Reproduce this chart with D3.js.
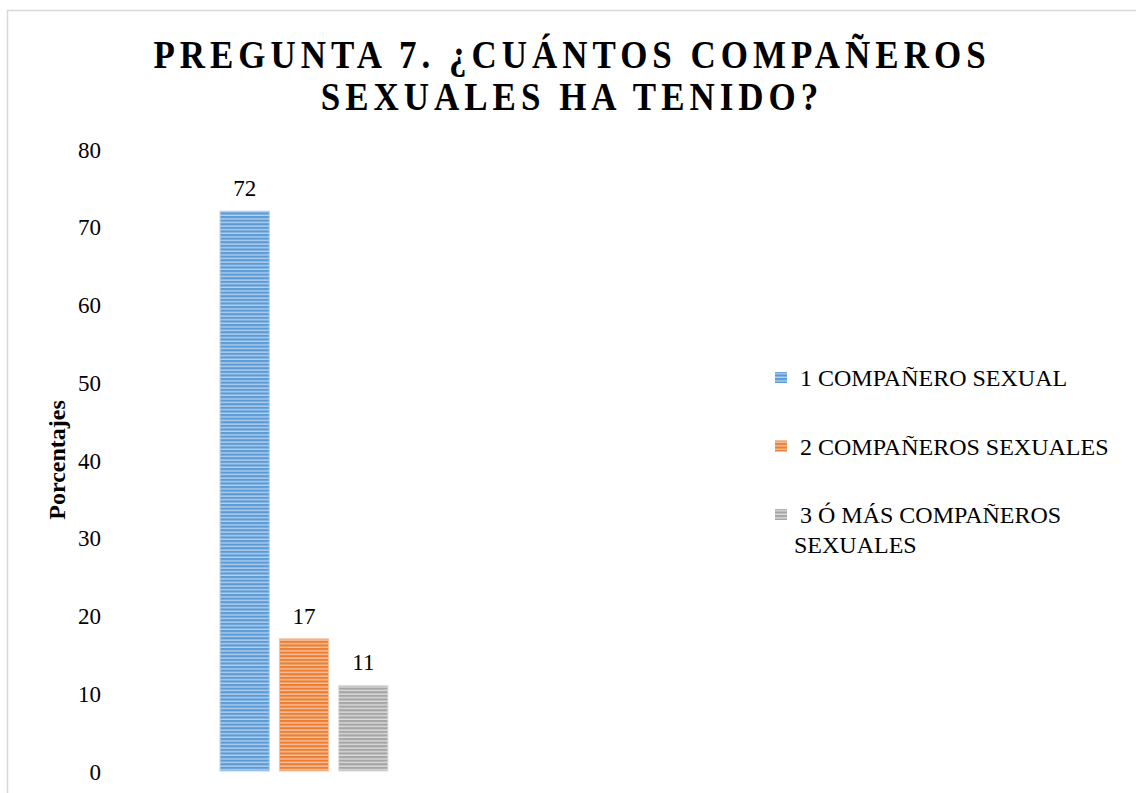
<!DOCTYPE html>
<html>
<head>
<meta charset="utf-8">
<script src="https://cdn.jsdelivr.net/npm/d3@7"></script>
<style>
  body { margin: 0; background: #fff; }
  svg text { font-family: "Liberation Serif", "Times New Roman", serif; fill: #000; }
</style>
</head>
<body>
<div class="graph"></div>
<script>
// data
var category = ["Pregunta 7"];
var series = ["1 COMPAÑERO SEXUAL", "2 COMPAÑEROS SEXUALES", "3 Ó MÁS COMPAÑEROS SEXUALES"];
var values = [72, 17, 11];
var colours = ["#5b9bd5", "#ed7d31", "#a5a5a5"];
var lightColours = ["#b4d0ee", "#f7c4a2", "#dcdcdc"];
var yTicks = [0, 10, 20, 30, 40, 50, 60, 70, 80];
var titleLines = ["PREGUNTA 7. ¿CUÁNTOS COMPAÑEROS", "SEXUALES HA TENIDO?"];
var legendLines = [["1 COMPAÑERO SEXUAL"], ["2 COMPAÑEROS SEXUALES"], ["3 Ó MÁS COMPAÑEROS", "SEXUALES"]];

var width = 1136, height = 793;
var plot = { left: 110, right: 498, top: 149, bottom: 771 };

var svg = d3.select(".graph").append("svg").attr("width", width).attr("height", height);

// striped fills
var defs = svg.append("defs");
colours.forEach(function (c, i) {
  var p = defs.append("pattern").attr("id", "stripe" + i)
    .attr("patternUnits", "userSpaceOnUse").attr("width", 8).attr("height", 3.6);
  p.append("rect").attr("width", 8).attr("height", 3.6).style("fill", lightColours[i]);
  p.append("rect").attr("width", 8).attr("height", 2.2).style("fill", c);
});

// chart frame
svg.append("rect").attr("x", 7.5).attr("y", 10.5).attr("width", width + 10).attr("height", height + 10)
  .style("fill", "none").style("stroke", "#d9d9d9").style("stroke-width", 1.5);

var y = d3.scaleLinear().domain([0, 80]).range([plot.bottom, plot.top]);
var x0 = d3.scaleBand().domain(category).range([plot.left, plot.right]).padding(0.396);
var x1 = d3.scaleBand().domain(series).range([0, x0.bandwidth()]).paddingInner(0.17);

// y axis (no line, no ticks)
var yAxis = d3.axisLeft(y).tickValues(yTicks).tickSize(0).tickPadding(0);
var ag = svg.append("g").attr("transform", "translate(101,0)").call(yAxis);
ag.select(".domain").remove();
ag.selectAll("text").style("font-family", "Liberation Serif, serif").style("font-size", "23px")
  .attr("dy", "0.35em").style("fill", "#000");

// bars
var g = svg.append("g").attr("transform", "translate(" + x0(category[0]) + ",0)");
g.selectAll("rect").data(values).enter().append("rect")
  .attr("x", function (d, i) { return x1(series[i]); })
  .attr("y", function (d) { return y(d); })
  .attr("width", x1.bandwidth())
  .attr("height", function (d) { return y(0) - y(d); })
  .style("fill", function (d, i) { return "url(#stripe" + i + ")"; })
  .style("stroke", function (d, i) { return lightColours[i]; })
  .style("stroke-width", 1);

// data labels
g.selectAll(".lbl").data(values).enter().append("text").attr("class", "lbl")
  .attr("x", function (d, i) { return x1(series[i]) + x1.bandwidth() / 2; })
  .attr("y", function (d) { return y(d) - 15; })
  .attr("text-anchor", "middle").style("font-size", "23px")
  .text(function (d) { return d; });

// title (glyphs look vertically stretched in the reference)
svg.selectAll(".title").data(titleLines).enter().append("text").attr("class", "title")
  .attr("transform", function (d, i) { return "translate(572," + (68 + i * 42) + ") scale(1,1.12)"; })
  .attr("text-anchor", "middle")
  .style("font-size", "35px").style("font-weight", "bold").style("letter-spacing", "5px")
  .text(function (d) { return d; });

// y axis label
svg.append("text").attr("transform", "translate(65,460) rotate(-90)")
  .attr("text-anchor", "middle").style("font-size", "24px").style("font-weight", "bold")
  .text("Porcentajes");

// legend
var leg = svg.selectAll(".leg").data(legendLines).enter().append("g").attr("class", "leg")
  .attr("transform", function (d, i) { return "translate(775," + (378 + i * 68.5) + ")"; });
leg.append("rect").attr("x", 0).attr("y", -6).attr("width", 12).attr("height", 11)
  .style("fill", function (d, i) { return "url(#stripe" + i + ")"; });
leg.each(function (d) {
  var t = d3.select(this).append("text").attr("y", 0).style("font-size", "24px");
  d.forEach(function (line, j) {
    t.append("tspan").attr("x", j === 0 ? 25 : 19).attr("dy", j === 0 ? "0.35em" : "30px").text(line);
  });
});
</script>
</body>
</html>
